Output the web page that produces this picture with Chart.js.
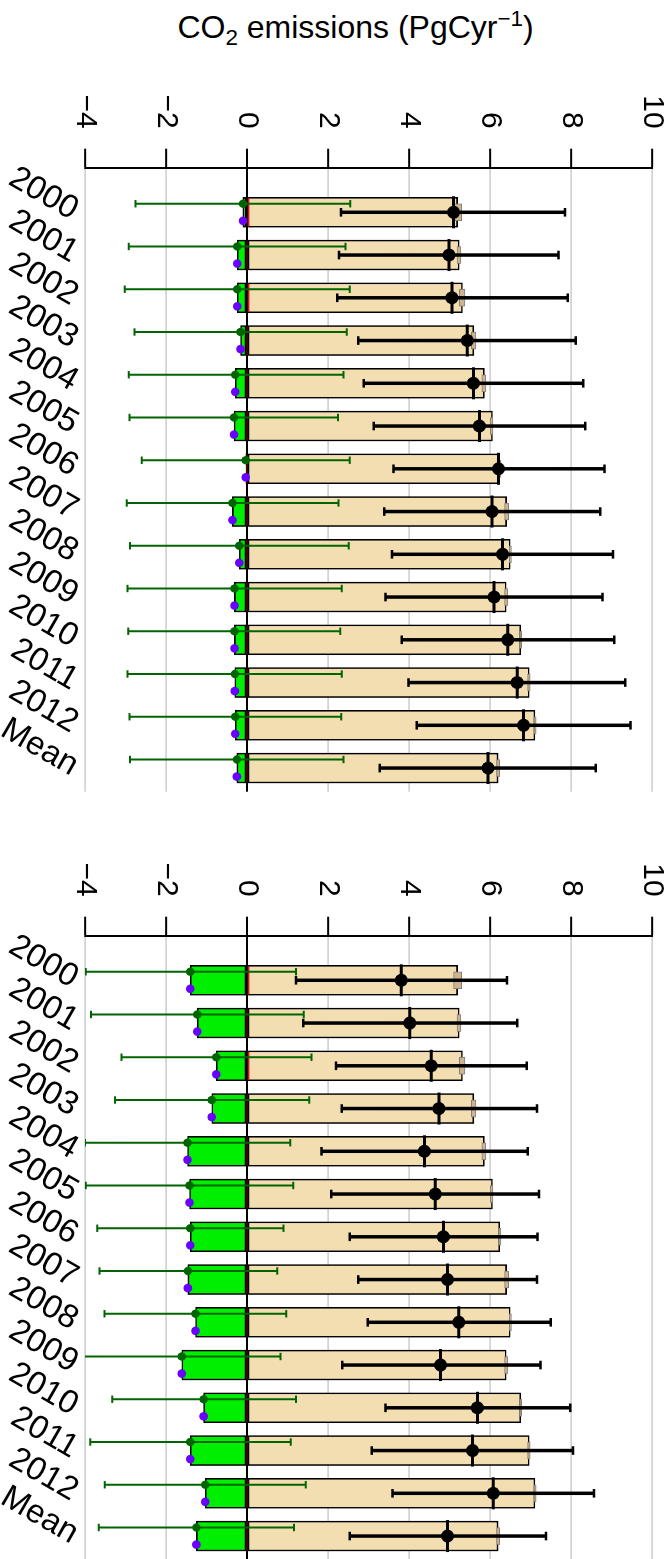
<!DOCTYPE html>
<html>
<head>
<meta charset="utf-8">
<script src="https://cdn.jsdelivr.net/npm/chart.js@4.4.0/dist/chart.umd.min.js"></script>
<style>
  html, body { margin: 0; padding: 0; width: 672px; height: 1559px; overflow: hidden; background: #fff; }
  #title {
    position: absolute; left: 0; top: 11px; width: 711px; text-align: center;
    font-family: "Liberation Sans", Arial, Helvetica, sans-serif; font-size: 32px; line-height: 32px;
    color: #000; white-space: nowrap;
  }
  #title sub, #title sup { font-size: 70%; line-height: 0; }
  /* the plot is drawn upright and turned a quarter turn clockwise */
  #rot { position: absolute; left: 0; top: 0; width: 1568px; height: 672px;
         transform-origin: 0 0; transform: translateX(672px) rotate(90deg); }
  #rot canvas { position: absolute; top: 0; }
</style>
</head>
<body>
<div id="title">CO<sub>2</sub> emissions (PgCyr<sup>&minus;1</sup>)</div>
<div id="rot">
  <canvas id="panel1" width="800" height="672" style="left:0"></canvas>
  <canvas id="panel2" width="800" height="672" style="left:768px"></canvas>
</div>
<script>
const years = ['2000', '2001', '2002', '2003', '2004', '2005', '2006',
               '2007', '2008', '2009', '2010', '2011', '2012', 'Mean'];
const valueTicks = [-4, -2, 0, 2, 4, 6, 8, 10];

// fossil emissions bar and its small range box (same in both panels)
const fossil   = [5.20, 5.24, 5.32, 5.60, 5.86, 6.06, 6.24, 6.41, 6.50, 6.40, 6.76, 6.97, 7.11, 6.20];
const fossilLo = [5.10, 5.19, 5.24, 5.54, 5.80, 6.01, 6.21, 6.36, 6.48, 6.36, 6.73, 6.93, 7.08, 6.16];
const fossilHi = [5.30, 5.28, 5.38, 5.65, 5.90, 6.07, 6.27, 6.46, 6.53, 6.44, 6.78, 6.99, 7.14, 6.24];
const other    = [0.04, 0, 0.04, 0, 0, 0, 0, 0, 0, 0, 0, 0, 0, 0];

// top panel
const net1     = [-0.10, -0.24, -0.24, -0.16, -0.29, -0.32, -0.03, -0.36, -0.19, -0.31, -0.31, -0.30, -0.29, -0.25];
const alt1     = [-0.10, -0.24, -0.24, -0.16, -0.29, -0.32, -0.03, -0.36, -0.19, -0.31, -0.31, -0.30, -0.29, -0.25];
const netLo1   = [-2.75, -2.92, -3.02, -2.78, -2.92, -2.90, -2.60, -2.97, -2.89, -2.95, -2.93, -2.95, -2.90, -2.89];
const netHi1   = [2.55, 2.43, 2.54, 2.46, 2.38, 2.25, 2.54, 2.26, 2.51, 2.34, 2.30, 2.34, 2.33, 2.38];
const total1   = [5.10, 4.99, 5.06, 5.44, 5.59, 5.74, 6.21, 6.05, 6.31, 6.10, 6.44, 6.67, 6.83, 5.95];
const totalLo1 = [2.32, 2.27, 2.23, 2.75, 2.88, 3.13, 3.62, 3.39, 3.58, 3.42, 3.82, 3.99, 4.19, 3.28];
const totalHi1 = [7.85, 7.69, 7.92, 8.12, 8.30, 8.35, 8.83, 8.72, 9.04, 8.78, 9.07, 9.34, 9.47, 8.61];

// bottom panel
const net2     = [-1.40, -1.23, -0.76, -0.87, -1.47, -1.42, -1.40, -1.46, -1.27, -1.61, -1.07, -1.40, -1.03, -1.25];
const alt2     = [-1.40, -1.23, -0.76, -0.87, -1.47, -1.42, -1.40, -1.46, -1.27, -1.61, -1.07, -1.40, -1.03, -1.25];
const netLo2   = [-3.98, -3.85, -3.10, -3.26, -4.00, -3.98, -3.70, -3.64, -3.52, -4.05, -3.33, -3.87, -3.51, -3.66];
const netHi2   = [1.21, 1.40, 1.59, 1.54, 1.07, 1.14, 0.90, 0.75, 0.97, 0.83, 1.21, 1.08, 1.45, 1.16];
const total2   = [3.81, 4.02, 4.55, 4.74, 4.38, 4.65, 4.85, 4.95, 5.23, 4.78, 5.69, 5.57, 6.08, 4.95];
const totalLo2 = [1.21, 1.39, 2.20, 2.34, 1.84, 2.08, 2.54, 2.75, 2.98, 2.35, 3.42, 3.08, 3.59, 2.54];
const totalHi2 = [6.42, 6.67, 6.91, 7.16, 6.93, 7.21, 7.17, 7.16, 7.50, 7.25, 7.98, 8.05, 8.57, 7.38];

Chart.defaults.font.family = '"Liberation Sans", Arial, Helvetica, sans-serif';
Chart.defaults.color = '#000';

// helpers turning the arrays into point lists
function bars(vals) { return vals.map((v, i) => ({ x: i, y: v })); }
function ranges(lo, hi) { return lo.map((v, i) => ({ x: i, y: [v, hi[i]] })); }
function pts(vals, dx) { return vals.map((v, i) => ({ x: i + dx, y: v })); }
function whiskers(lo, hi, dx) {
    const out = [];
    lo.forEach((v, i) => {
        out.push({ x: i + dx, y: v }, { x: i + dx, y: hi[i] }, { x: i + dx, y: null });
    });
    return out;
}

function makePanel(id, net, alt, netLo, netHi, total, totalLo, totalHi) {
    const ctx = document.getElementById(id).getContext('2d');
    return new Chart(ctx, {
        type: 'bar',
        data: {
            datasets: [
                { data: bars(fossil), backgroundColor: '#F3DEB2', borderColor: '#000', borderWidth: 1.6,
                  borderSkipped: false, barThickness: 30, grouped: false, order: 20 },
                { data: bars(net), backgroundColor: '#00EE00', borderColor: '#000', borderWidth: 1.6,
                  borderSkipped: false, barThickness: 30, grouped: false, order: 19 },
                { data: bars(other), backgroundColor: '#FF0000', borderWidth: 0,
                  barThickness: 28, grouped: false, order: 18 },
                { data: ranges(fossilLo, fossilHi), backgroundColor: '#D2B48C', borderColor: '#808080', borderWidth: 1,
                  borderSkipped: false, barThickness: 17, grouped: false, order: 17 },
                { type: 'scatter', data: whiskers(netLo, netHi, -0.2), showLine: true, spanGaps: false,
                  borderColor: '#006400', borderWidth: 2, pointStyle: 'line', pointRadius: 3.7,
                  pointBorderWidth: 2, pointBorderColor: '#006400', order: 10 },
                { type: 'scatter', data: whiskers(totalLo, totalHi, 0), showLine: true, spanGaps: false,
                  borderColor: '#000', borderWidth: 3.5, pointStyle: 'line', pointRadius: 4.3,
                  pointBorderWidth: 2.5, pointBorderColor: '#000', order: 9 },
                { type: 'scatter', data: pts(total, 0), pointStyle: 'line', pointRadius: 16,
                  pointBorderWidth: 3, pointBorderColor: '#000', order: 8 },
                { type: 'scatter', data: pts(total, 0), pointStyle: 'circle', pointRadius: 6.5,
                  pointBackgroundColor: '#000', pointBorderWidth: 0, order: 7 },
                { type: 'scatter', data: pts(net, -0.2), pointStyle: 'circle', pointRadius: 4.2,
                  pointBackgroundColor: '#006400', pointBorderWidth: 0, order: 6 },
                { type: 'scatter', data: pts(alt, 0.2), pointStyle: 'circle', pointRadius: 4.3,
                  pointBackgroundColor: '#6A00FF', pointBorderWidth: 0, order: 5 }
            ]
        },
        options: {
            responsive: false,
            animation: false,
            events: [],
            layout: { autoPadding: false, padding: { top: 20, right: 8.3, left: 0, bottom: 0 } },
            plugins: { legend: { display: false }, tooltip: { enabled: false } },
            scales: {
                x: {
                    type: 'linear', min: -1.043, max: 13.553, offset: false,
                    grid: { display: false, drawTicks: false },
                    border: { display: false },
                    afterBuildTicks: s => { s.ticks = years.map((_, i) => ({ value: i })); },
                    afterFit: s => { s.height = 85; s.paddingLeft = 0; s.paddingRight = 0; },
                    ticks: {
                        autoSkip: false, minRotation: 60, maxRotation: 60, padding: 0,
                        font: { size: 33 }, color: '#000',
                        callback: v => years[v]
                    }
                },
                y: {
                    min: -4, max: 10,
                    afterBuildTicks: s => { s.ticks = valueTicks.map(v => ({ value: v })); },
                    afterFit: s => { s.width = 167.7; s.paddingTop = 0; s.paddingBottom = 0; },
                    grid: {
                        color: c => (c.tick && c.tick.value === 0) ? '#000' : '#D3D3D3',
                        lineWidth: c => (c.tick && c.tick.value === 0) ? 2 : 1.7,
                        tickColor: '#000', tickLength: 19, tickWidth: 2
                    },
                    border: { color: '#000', width: 2 },
                    ticks: {
                        padding: 20, font: { size: 30 }, color: '#000',
                        callback: v => v < 0 ? '\u2212' + Math.abs(v) : String(v)
                    }
                }
            }
        }
    });
}

makePanel('panel1', net1, alt1, netLo1, netHi1, total1, totalLo1, totalHi1);
makePanel('panel2', net2, alt2, netLo2, netHi2, total2, totalLo2, totalHi2);
</script>
</body>
</html>
